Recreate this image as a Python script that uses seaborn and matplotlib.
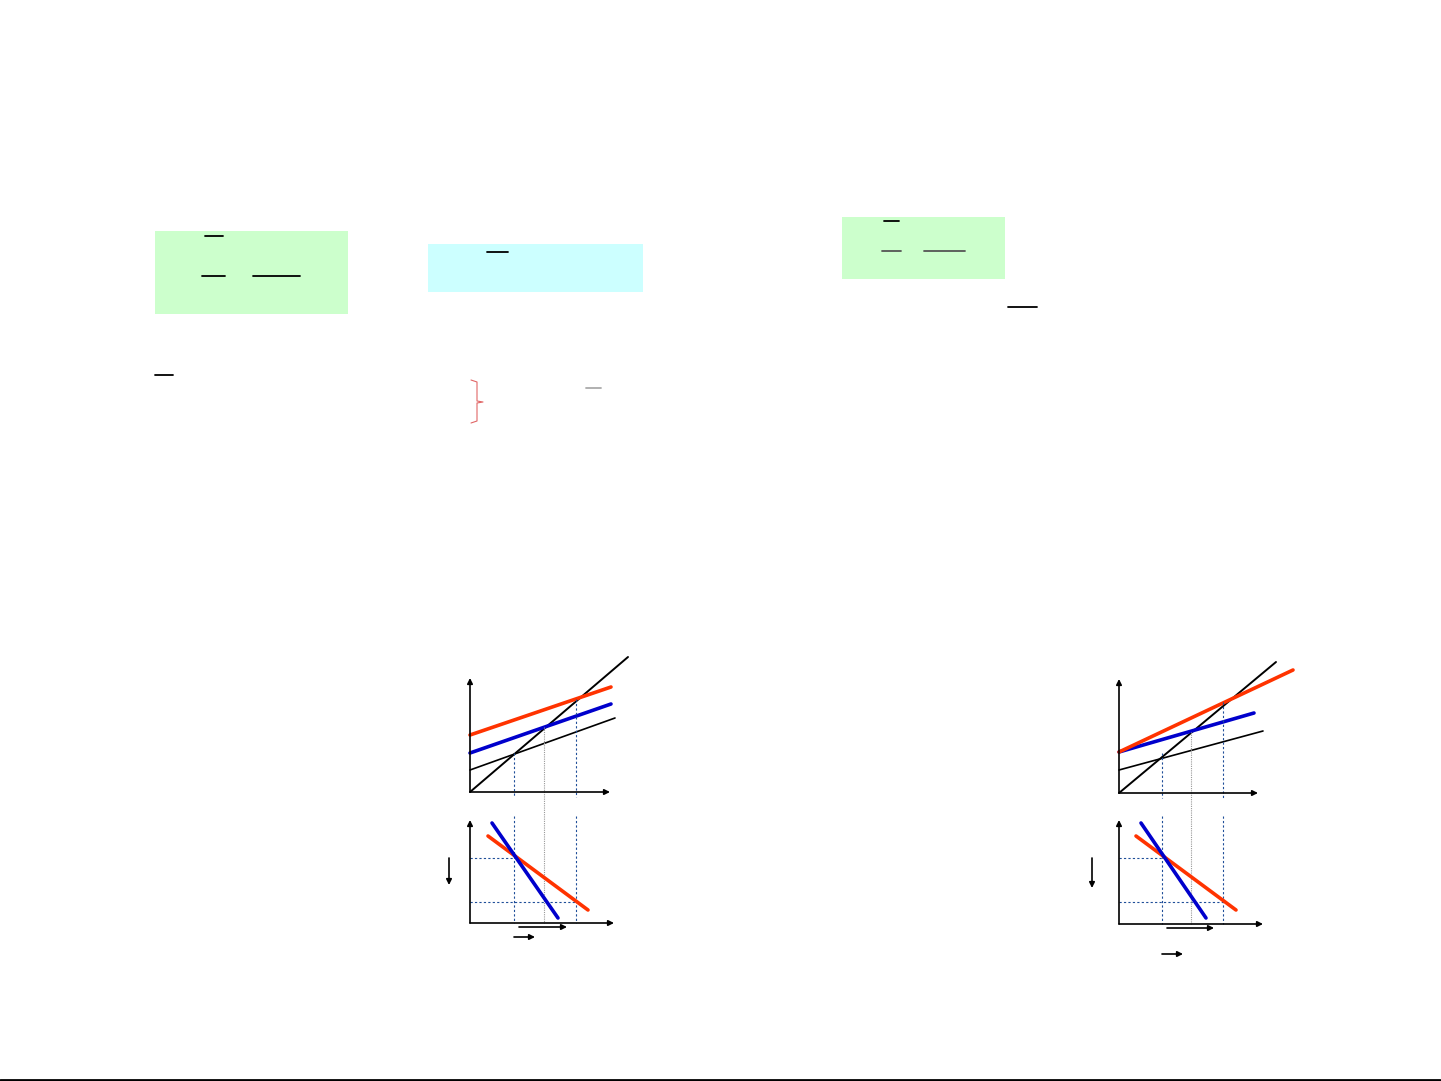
import matplotlib
matplotlib.use("Agg")
import matplotlib.pyplot as plt
import matplotlib.patches as mpatches
import seaborn as sns

sns.set_theme(style="white")

# slide is 1441 x 1081 px, everything in pixel coords (y grows down)
W, H = 1441, 1081

# shaded boxes: x0, y0, x1, y1, colour
boxes = [
    (155, 231, 348, 314, "#CCFFCC"),
    (428, 244, 643, 292, "#CCFFFF"),
    (842, 217, 1005, 279, "#CCFFCC"),
]

# fraction bars (text was stripped, only the rules remain): x0, x1, y, colour
frac_bars = [
    (205, 223, 236, "black"), (202, 225, 276, "black"), (253, 300, 276, "black"),
    (155, 173, 375, "black"), (487, 508, 252, "black"), (586, 601, 388, "#AAAAAA"),
    (884, 899, 221, "black"), (882, 901, 251, "#555555"), (924, 965, 251, "#555555"),
    (1008, 1037, 307, "black"),
]

# left diagram: upper panel
left_origin = (470, 792)
left_x_end, left_y_top = 610, 678
left_diag = ([470, 628], [792, 657])
left_red = ([470, 611], [735, 687])
left_blue = ([470, 611], [753, 704])
left_thin = ([470, 615], [770, 718])
# left diagram: lower panel
left_lo_origin = (470, 923)
left_lo_x_end, left_lo_y_top = 614, 820
left_lo_blue = ([492, 558], [823, 918])
left_lo_red = ([488, 588], [836, 910])
left_eq_x = [514, 576]
left_eq_top = [753, 699]
left_eq_y = [858, 902]
left_mid_x = 544

# right diagram: upper panel
right_origin = (1119, 793)
right_x_end, right_y_top = 1258, 679
right_diag = ([1119, 1276], [793, 662])
right_red = ([1119, 1293], [752, 670])
right_blue = ([1119, 1254], [752, 713])
right_thin = ([1119, 1263], [770, 731])
# right diagram: lower panel
right_lo_origin = (1119, 924)
right_lo_x_end, right_lo_y_top = 1263, 820
right_lo_blue = ([1141, 1206], [823, 918])
right_lo_red = ([1136, 1236], [836, 910])
right_eq_x = [1162, 1223]
right_eq_top = [753, 702]
right_eq_y = [858, 902]
right_mid_x = 1191

RED = "#FF3300"
BLUE = "#0000CC"
NAVY = "#1F4E99"

fig = plt.figure(figsize=(W / 100, H / 100), dpi=100)
ax = fig.add_axes([0, 0, 1, 1])
ax.set_xlim(0, W)
ax.set_ylim(H, 0)
ax.axis("off")

for x0, y0, x1, y1, c in boxes:
    ax.add_patch(mpatches.Rectangle((x0, y0), x1 - x0, y1 - y0, color=c, lw=0))

for x0, x1, y, c in frac_bars:
    ax.plot([x0, x1], [y, y], color=c, lw=1.3)

# red curly brace
brace_x, brace_top, brace_bot, brace_mid = 477, 380, 423, 402
ax.plot([brace_x - 6, brace_x, brace_x, brace_x + 6, brace_x, brace_x, brace_x - 6],
        [brace_top, brace_top + 2, brace_mid - 1, brace_mid, brace_mid + 1, brace_bot - 2, brace_bot],
        color="#CC0000", lw=0.8, alpha=0.6)


def arrow(x0, y0, x1, y1, lw=1.2, color="black"):
    ax.annotate("", xy=(x1, y1), xytext=(x0, y0),
                arrowprops=dict(arrowstyle="-|>", color=color, lw=lw,
                                mutation_scale=8, shrinkA=0, shrinkB=0))


def diagram(origin, x_end, y_top, diag, red, blue, thin,
            lo_origin, lo_x_end, lo_y_top, lo_blue, lo_red,
            eq_x, eq_top, eq_y, mid_x, mid_top, arrows):
    ox, oy = origin
    arrow(ox, oy, x_end, oy)
    arrow(ox, oy, ox, y_top)
    sns.lineplot(x=thin[0], y=thin[1], ax=ax, color="black", lw=1.2)
    sns.lineplot(x=diag[0], y=diag[1], ax=ax, color="black", lw=1.4)
    sns.lineplot(x=blue[0], y=blue[1], ax=ax, color=BLUE, lw=2.6)
    sns.lineplot(x=red[0], y=red[1], ax=ax, color=RED, lw=2.6)
    lx, ly = lo_origin
    arrow(lx, ly, lo_x_end, ly)
    arrow(lx, ly, lx, lo_y_top)
    for xv, top in zip(eq_x, eq_top):
        ax.plot([xv, xv], [top, oy + 5], color=NAVY, lw=0.8, ls=(0, (2, 2)))
        ax.plot([xv, xv], [lo_y_top - 4, ly], color=NAVY, lw=0.8, ls=(0, (2, 2)))
    for yv, xv in zip(eq_y, eq_x):
        ax.plot([lx, xv], [yv, yv], color=NAVY, lw=0.8, ls=(0, (2, 2)))
    ax.plot([mid_x, mid_x], [mid_top, ly], color="#999999", lw=0.8, ls=(0, (1, 1)))
    sns.lineplot(x=lo_red[0], y=lo_red[1], ax=ax, color=RED, lw=2.6)
    sns.lineplot(x=lo_blue[0], y=lo_blue[1], ax=ax, color=BLUE, lw=2.6)
    for a in arrows:
        arrow(*a)


diagram(left_origin, left_x_end, left_y_top, left_diag, left_red, left_blue, left_thin,
        left_lo_origin, left_lo_x_end, left_lo_y_top, left_lo_blue, left_lo_red,
        left_eq_x, left_eq_top, left_eq_y, left_mid_x, 727,
        [(449, 858, 449, 885), (519, 927, 567, 927), (514, 937, 535, 937)])
diagram(right_origin, right_x_end, right_y_top, right_diag, right_red, right_blue, right_thin,
        right_lo_origin, right_lo_x_end, right_lo_y_top, right_lo_blue, right_lo_red,
        right_eq_x, right_eq_top, right_eq_y, right_mid_x, 732,
        [(1092, 858, 1092, 888), (1167, 928, 1214, 928), (1162, 954, 1183, 954)])

# slide footer rule
ax.plot([0, 1440], [1080, 1080], color="black", lw=2)

ax.set_xlim(0, W)
ax.set_ylim(H, 0)
fig.savefig("out.png", dpi=100)
